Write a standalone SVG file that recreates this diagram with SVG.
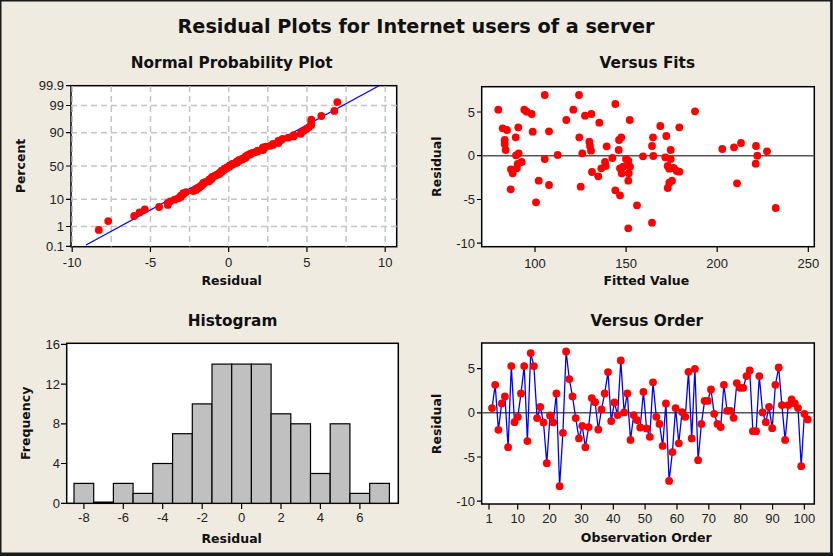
<svg xmlns="http://www.w3.org/2000/svg" width="833" height="556" viewBox="0 0 833 556">
<style>
.bg{fill:#EFEBE1}
.box{fill:#fff;stroke:#000;stroke-width:1.5}
.tk{stroke:#000;stroke-width:1.2}
.grid{stroke:#C4C4C4;stroke-width:1.5;stroke-dasharray:6 4;fill:none}
.pt{fill:#FF0000}
.pt circle{r:3.9px}
.t{font-family:"Liberation Sans",Arial,sans-serif;font-size:13px;fill:#222}
.tr{text-anchor:end}
.tm{text-anchor:middle}
.h{font-family:"DejaVu Sans",Verdana,sans-serif;font-weight:bold;font-size:15.3px;fill:#111;text-anchor:middle}
.a{font-family:"DejaVu Sans",Verdana,sans-serif;font-weight:bold;font-size:12.5px;fill:#111;text-anchor:middle}
.bar{fill:#C0C0C0;stroke:#000;stroke-width:1.2}
.zero{stroke:#555;stroke-width:1.5}
.fit{stroke:#0000FF;stroke-width:1.3;fill:none}
</style>
<rect class="bg" x="0" y="0" width="833" height="556"/>
<rect x="0.75" y="0.75" width="830.5" height="552.5" fill="none" stroke="#1a1a1a" stroke-width="1.5"/>
<line x1="831.5" y1="0" x2="831.5" y2="556" stroke="#1a1a1a" stroke-width="2.5"/>
<line x1="0" y1="554.5" x2="833" y2="554.5" stroke="#1a1a1a" stroke-width="3"/>
<text x="416" y="33" font-family="DejaVu Sans,Verdana,sans-serif" font-weight="bold" font-size="19.3" fill="#111" text-anchor="middle" textLength="477" lengthAdjust="spacingAndGlyphs">Residual Plots for Internet users of a server</text>

<g id="normal-plot">
<text class="h" x="231.7" y="67.5">Normal Probability Plot</text>
<rect class="box" x="71" y="85.7" width="325.7" height="161"/>
<g class="grid">
<path d="M72.2 86V246.5M111.3 86V246.5M150.45 86V246.5M189.6 86V246.5M228.7 86V246.5M267.8 86V246.5M306.95 86V246.5M346.1 86V246.5M385.2 86V246.5"/>
<path d="M71 105.5H396.7M71 132.7H396.7M71 166H396.7M71 199.3H396.7M71 226.5H396.7"/>
</g>
<path class="tk" d="M66 85.7H71M66 105.5H71M66 132.7H71M66 166H71M66 199.3H71M66 226.5H71M66 246.3H71M72.2 246.7V252M150.45 246.7V252M228.7 246.7V252M306.95 246.7V252M385.2 246.7V252"/>
<g class="t tr">
<text x="64" y="90">99.9</text><text x="64" y="110">99</text><text x="64" y="137">90</text><text x="64" y="170.5">50</text><text x="64" y="203.8">10</text><text x="64" y="231">1</text><text x="64" y="250.8">0.1</text>
</g>
<g class="t tm">
<text x="72.2" y="267">-10</text><text x="150.45" y="267">-5</text><text x="228.7" y="267">0</text><text x="306.95" y="267">5</text><text x="385.2" y="267">10</text>
</g>
<text class="a" x="231.7" y="285">Residual</text>
<text class="a" transform="translate(25,166) rotate(-90)">Percent</text>
<line class="fit" x1="86" y1="245" x2="379" y2="85.7"/>
<g class="pt">
<circle cx="98.8" cy="229.9" r="3.7"/><circle cx="108.2" cy="221.1" r="3.7"/><circle cx="134.2" cy="216" r="3.7"/><circle cx="139.5" cy="212.4" r="3.7"/><circle cx="144.8" cy="209.5" r="3.7"/><circle cx="159.1" cy="207" r="3.7"/><circle cx="167.8" cy="204.9" r="3.7"/><circle cx="167.8" cy="203" r="3.7"/><circle cx="170.2" cy="201.3" r="3.7"/><circle cx="174.7" cy="199.7" r="3.7"/>
<circle cx="178.6" cy="198.2" r="3.7"/><circle cx="180.8" cy="196.9" r="3.7"/><circle cx="180.8" cy="195.6" r="3.7"/><circle cx="183.3" cy="194.3" r="3.7"/><circle cx="183.3" cy="193.2" r="3.7"/><circle cx="186.1" cy="192.1" r="3.7"/><circle cx="193.3" cy="191" r="3.7"/><circle cx="196.1" cy="190" r="3.7"/><circle cx="196.1" cy="189" r="3.7"/><circle cx="198.7" cy="188" r="3.7"/>
<circle cx="199.1" cy="187.1" r="3.7"/><circle cx="201" cy="186.2" r="3.7"/><circle cx="201.5" cy="185.3" r="3.7"/><circle cx="202.7" cy="184.5" r="3.7"/><circle cx="203.3" cy="183.7" r="3.7"/><circle cx="203.3" cy="182.8" r="3.7"/><circle cx="205.7" cy="182" r="3.7"/><circle cx="209.1" cy="181.3" r="3.7"/><circle cx="209.1" cy="180.5" r="3.7"/><circle cx="209.1" cy="179.7" r="3.7"/>
<circle cx="211.6" cy="179" r="3.7"/><circle cx="211.6" cy="178.2" r="3.7"/><circle cx="212.1" cy="177.5" r="3.7"/><circle cx="212.1" cy="176.8" r="3.7"/><circle cx="214" cy="176.1" r="3.7"/><circle cx="215.7" cy="175.4" r="3.7"/><circle cx="217" cy="174.7" r="3.7"/><circle cx="219.3" cy="174" r="3.7"/><circle cx="219.3" cy="173.3" r="3.7"/><circle cx="219.8" cy="172.6" r="3.7"/>
<circle cx="221.7" cy="172" r="3.7"/><circle cx="221.7" cy="171.3" r="3.7"/><circle cx="221.7" cy="170.6" r="3.7"/><circle cx="224" cy="170" r="3.7"/><circle cx="224.6" cy="169.3" r="3.7"/><circle cx="224.6" cy="168.6" r="3.7"/><circle cx="227" cy="168" r="3.7"/><circle cx="227" cy="167.3" r="3.7"/><circle cx="229.3" cy="166.65" r="3.7"/><circle cx="229.3" cy="166" r="3.7"/>
<circle cx="229.9" cy="165.35" r="3.7"/><circle cx="232.3" cy="164.7" r="3.7"/><circle cx="232.3" cy="164" r="3.7"/><circle cx="234.6" cy="163.4" r="3.7"/><circle cx="237" cy="162.7" r="3.7"/><circle cx="237" cy="162" r="3.7"/><circle cx="237" cy="161.4" r="3.7"/><circle cx="239.3" cy="160.7" r="3.7"/><circle cx="239.3" cy="160" r="3.7"/><circle cx="242.3" cy="159.4" r="3.7"/>
<circle cx="242.3" cy="158.7" r="3.7"/><circle cx="245.3" cy="158" r="3.7"/><circle cx="245.3" cy="157.3" r="3.7"/><circle cx="245.3" cy="156.6" r="3.7"/><circle cx="247" cy="155.9" r="3.7"/><circle cx="247.5" cy="155.2" r="3.7"/><circle cx="250" cy="154.5" r="3.7"/><circle cx="250" cy="153.8" r="3.7"/><circle cx="252.3" cy="153" r="3.7"/><circle cx="254.7" cy="152.3" r="3.7"/>
<circle cx="257.7" cy="151.5" r="3.7"/><circle cx="257.7" cy="150.7" r="3.7"/><circle cx="263" cy="150" r="3.7"/><circle cx="263" cy="149.2" r="3.7"/><circle cx="263" cy="148.3" r="3.7"/><circle cx="263" cy="147.5" r="3.7"/><circle cx="265.9" cy="146.7" r="3.7"/><circle cx="270" cy="145.8" r="3.7"/><circle cx="273" cy="144.9" r="3.7"/><circle cx="273" cy="144" r="3.7"/>
<circle cx="278.3" cy="143" r="3.7"/><circle cx="278.3" cy="142" r="3.7"/><circle cx="278.3" cy="141" r="3.7"/><circle cx="281.3" cy="139.9" r="3.7"/><circle cx="282.7" cy="138.8" r="3.7"/><circle cx="288.3" cy="137.7" r="3.7"/><circle cx="293.6" cy="136.4" r="3.7"/><circle cx="293.6" cy="135.1" r="3.7"/><circle cx="300.7" cy="133.8" r="3.7"/><circle cx="301.3" cy="132.3" r="3.7"/>
<circle cx="303.7" cy="130.7" r="3.7"/><circle cx="306.6" cy="129" r="3.7"/><circle cx="309" cy="127.1" r="3.7"/><circle cx="311.3" cy="125" r="3.7"/><circle cx="311.3" cy="122.5" r="3.7"/><circle cx="311.3" cy="119.6" r="3.7"/><circle cx="321.3" cy="116" r="3.7"/><circle cx="334.3" cy="110.9" r="3.7"/><circle cx="337.3" cy="102.1" r="3.7"/>
</g>
</g>

<g id="versus-fits">
<text class="h" x="647.3" y="68.3">Versus Fits</text>
<rect class="box" x="481.7" y="86.7" width="332.6" height="160"/>
<line class="zero" x1="481.7" y1="155.7" x2="814.3" y2="155.7"/>
<path class="tk" d="M477 112H481.7M477 155.7H481.7M477 199.5H481.7M477 243.2H481.7M535 246.7V252M626.1 246.7V252M717.2 246.7V252M808.3 246.7V252"/>
<g class="t tr">
<text x="475" y="116.5">5</text><text x="475" y="160.2">0</text><text x="475" y="204">-5</text><text x="475" y="247.7">-10</text>
</g>
<g class="t tm">
<text x="535" y="268">100</text><text x="626.1" y="268">150</text><text x="717.2" y="268">200</text><text x="808.3" y="268">250</text>
</g>
<text class="a" x="646.3" y="284.5">Fitted Value</text>
<text class="a" transform="translate(441,166.7) rotate(-90)">Residual</text>
<g class="pt">
<circle cx="498.3" cy="109.7" r="3.7"/><circle cx="502.7" cy="128.3" r="3.7"/><circle cx="507" cy="130" r="3.7"/><circle cx="504.7" cy="140" r="3.7"/><circle cx="504.7" cy="144" r="3.7"/><circle cx="505.7" cy="150" r="3.7"/><circle cx="515.7" cy="137.3" r="3.7"/><circle cx="518.3" cy="127.3" r="3.7"/><circle cx="511" cy="169.3" r="3.7"/><circle cx="512.7" cy="173.3" r="3.7"/>
<circle cx="510.7" cy="189.3" r="3.7"/><circle cx="516" cy="155.3" r="3.7"/><circle cx="518.7" cy="153.3" r="3.7"/><circle cx="516.7" cy="168.3" r="3.7"/><circle cx="521.7" cy="162" r="3.7"/><circle cx="517.7" cy="164" r="3.7"/><circle cx="524.3" cy="109.7" r="3.7"/><circle cx="526.7" cy="111.7" r="3.7"/><circle cx="531.7" cy="114" r="3.7"/><circle cx="532.7" cy="131.7" r="3.7"/>
<circle cx="536" cy="202.3" r="3.7"/><circle cx="538.7" cy="180.7" r="3.7"/><circle cx="544.7" cy="95" r="3.7"/><circle cx="544.7" cy="159" r="3.7"/><circle cx="549" cy="131.3" r="3.7"/><circle cx="549" cy="185" r="3.7"/><circle cx="557.7" cy="155" r="3.7"/><circle cx="566.3" cy="120" r="3.7"/><circle cx="573.3" cy="109.7" r="3.7"/><circle cx="579" cy="95" r="3.7"/>
<circle cx="579.3" cy="137.3" r="3.7"/><circle cx="580.7" cy="186.7" r="3.7"/><circle cx="582.3" cy="153.3" r="3.7"/><circle cx="585" cy="115.7" r="3.7"/><circle cx="591.3" cy="114" r="3.7"/><circle cx="589.3" cy="141.7" r="3.7"/><circle cx="590" cy="146" r="3.7"/><circle cx="591" cy="150.7" r="3.7"/><circle cx="592" cy="172" r="3.7"/><circle cx="598.3" cy="176.3" r="3.7"/>
<circle cx="599.3" cy="122.7" r="3.7"/><circle cx="601.3" cy="168.3" r="3.7"/><circle cx="605" cy="162" r="3.7"/><circle cx="605.7" cy="166" r="3.7"/><circle cx="606.7" cy="146.3" r="3.7"/><circle cx="612.3" cy="158" r="3.7"/><circle cx="615.3" cy="104" r="3.7"/><circle cx="615.3" cy="190.3" r="3.7"/><circle cx="620" cy="195.3" r="3.7"/><circle cx="618.7" cy="150" r="3.7"/>
<circle cx="619" cy="140" r="3.7"/><circle cx="621.3" cy="137.3" r="3.7"/><circle cx="620" cy="168.3" r="3.7"/><circle cx="621.7" cy="173.3" r="3.7"/><circle cx="623.3" cy="166.7" r="3.7"/><circle cx="626" cy="159" r="3.7"/><circle cx="628.3" cy="160.7" r="3.7"/><circle cx="629.7" cy="120" r="3.7"/><circle cx="628.7" cy="173.3" r="3.7"/><circle cx="628.3" cy="180.7" r="3.7"/>
<circle cx="630" cy="166.7" r="3.7"/><circle cx="628.3" cy="228.3" r="3.7"/><circle cx="637" cy="205.3" r="3.7"/><circle cx="643" cy="156.3" r="3.7"/><circle cx="652" cy="222.7" r="3.7"/><circle cx="653" cy="137.3" r="3.7"/><circle cx="652" cy="146" r="3.7"/><circle cx="653.3" cy="156" r="3.7"/><circle cx="660.3" cy="126" r="3.7"/><circle cx="665.3" cy="157.3" r="3.7"/>
<circle cx="666.3" cy="136" r="3.7"/><circle cx="667.7" cy="166" r="3.7"/><circle cx="669.3" cy="168.7" r="3.7"/><circle cx="667.7" cy="188" r="3.7"/><circle cx="669.3" cy="182.7" r="3.7"/><circle cx="670.7" cy="150" r="3.7"/><circle cx="670.7" cy="159" r="3.7"/><circle cx="672" cy="180.7" r="3.7"/><circle cx="673" cy="168" r="3.7"/><circle cx="674" cy="168.3" r="3.7"/>
<circle cx="676.7" cy="171" r="3.7"/><circle cx="679.3" cy="171.7" r="3.7"/><circle cx="679.3" cy="127.3" r="3.7"/><circle cx="695" cy="111.3" r="3.7"/><circle cx="722.3" cy="149" r="3.7"/><circle cx="734" cy="147.3" r="3.7"/><circle cx="741" cy="143" r="3.7"/><circle cx="737" cy="183.3" r="3.7"/><circle cx="756" cy="146" r="3.7"/><circle cx="757.3" cy="155.7" r="3.7"/>
<circle cx="755.7" cy="163.7" r="3.7"/><circle cx="767" cy="151.3" r="3.7"/><circle cx="775.7" cy="208" r="3.7"/>
</g>
</g>

<g id="histogram">
<text class="h" x="232.5" y="326">Histogram</text>
<rect class="box" x="66.7" y="343.3" width="331.6" height="160"/>
<g class="bar">
<rect x="74" y="483.4" width="19.71" height="19.9"/>
<rect x="113.4" y="483.4" width="19.71" height="19.9"/>
<rect x="133.1" y="493.4" width="19.71" height="9.9"/>
<rect x="152.8" y="463.5" width="19.71" height="39.8"/>
<rect x="172.6" y="433.7" width="19.71" height="69.6"/>
<rect x="192.3" y="403.9" width="19.71" height="99.4"/>
<rect x="212" y="364.1" width="19.71" height="139.2"/>
<rect x="231.7" y="364.1" width="19.71" height="139.2"/>
<rect x="251.4" y="364.1" width="19.71" height="139.2"/>
<rect x="271.1" y="413.8" width="19.71" height="89.5"/>
<rect x="290.8" y="423.8" width="19.71" height="79.5"/>
<rect x="310.5" y="473.5" width="19.71" height="29.8"/>
<rect x="330.2" y="423.8" width="19.71" height="79.5"/>
<rect x="350" y="493.4" width="19.71" height="9.9"/>
<rect x="369.7" y="483.4" width="19.71" height="19.9"/>
</g>
<line x1="93.7" y1="502.5" x2="113.4" y2="502.5" stroke="#000" stroke-width="2"/>
<path class="tk" d="M61 344.3H66.7M61 384.1H66.7M61 423.8H66.7M61 463.5H66.7M61 503.3H66.7M83.9 503.3V509M123.3 503.3V509M162.7 503.3V509M202.2 503.3V509M241.6 503.3V509M281 503.3V509M320.4 503.3V509M359.9 503.3V509"/>
<g class="t tr">
<text x="60" y="348.8">16</text><text x="60" y="388.6">12</text><text x="60" y="428.3">8</text><text x="60" y="468">4</text><text x="60" y="507.8">0</text>
</g>
<g class="t tm">
<text x="83.9" y="522">-8</text><text x="123.3" y="522">-6</text><text x="162.7" y="522">-4</text><text x="202.2" y="522">-2</text><text x="241.6" y="522">0</text><text x="281" y="522">2</text><text x="320.4" y="522">4</text><text x="359.9" y="522">6</text>
</g>
<text class="a" x="231.7" y="542.5">Residual</text>
<text class="a" transform="translate(30,423.3) rotate(-90)">Frequency</text>
</g>

<g id="versus-order">
<text class="h" x="646.8" y="326">Versus Order</text>
<rect class="box" x="481.7" y="343" width="332.6" height="161"/>
<line class="zero" x1="481.7" y1="412.8" x2="814.3" y2="412.8"/>
<path class="tk" d="M477 368.6H481.7M477 412.8H481.7M477 457H481.7M477 501.2H481.7M489 504V509.5M517.7 504V509.5M549.5 504V509.5M581.4 504V509.5M613.3 504V509.5M645.1 504V509.5M677 504V509.5M708.8 504V509.5M740.7 504V509.5M772.6 504V509.5M804.4 504V509.5"/>
<g class="t tr">
<text x="475" y="373.1">5</text><text x="475" y="417.3">0</text><text x="475" y="461.5">-5</text><text x="475" y="505.7">-10</text>
</g>
<g class="t tm">
<text x="489" y="523">1</text><text x="517.7" y="523">10</text><text x="549.5" y="523">20</text><text x="581.4" y="523">30</text><text x="613.3" y="523">40</text><text x="645.1" y="523">50</text><text x="677" y="523">60</text><text x="708.8" y="523">70</text><text x="740.7" y="523">80</text><text x="772.6" y="523">90</text><text x="804.4" y="523">100</text>
</g>
<text class="a" x="646.2" y="542">Observation Order</text>
<text class="a" transform="translate(441,424) rotate(-90)">Residual</text>
<polyline class="fit" points="492,408.1 495.2,384.8 498.4,429.8 501.7,403.4 504.9,396.4 508.1,447.2 511.3,366.1 514.5,422.2 517.8,416.8 521,393.4 524.2,366.1 527.4,441.1 530.7,353.1 533.9,366.1 537.1,418.1 540.3,406.8 543.5,422.4 546.8,463.2 550,415.5 553.2,422.4 556.4,393.4 559.6,486.2 562.9,432.8 566.1,351.5 569.3,379.1 572.5,396.4 575.7,418.1 579,438.4 582.2,425.8 585.4,447.2 588.6,427.1 591.8,398.1 595.1,402.2 598.3,429.5 601.5,409.4 604.7,393.4 608,372.1 611.2,421.1 614.4,402.5 617.6,415.1 620.8,360.5 624.1,412.4 627.3,393.4 630.5,439.9 633.7,415.1 636.9,420.1 640.2,427.5 643.4,391.8 646.6,428.4 649.8,436.8 653,382.3 656.3,416.8 659.5,423.9 662.7,445.9 665.9,403.4 669.1,480.9 672.4,452.1 675.6,408.1 678.8,443.3 682,412.1 685.3,416.8 688.5,371.8 691.7,438.4 694.9,368.8 698.1,460.2 701.4,423.9 704.6,400.8 707.8,400.8 711,389.5 714.2,413.8 717.5,423.9 720.7,427.1 723.9,384.8 727.1,410.8 730.4,410.8 733.6,417.8 736.8,383.1 740,387.8 743.2,387.8 746.5,376.1 749.7,370.5 752.9,431.2 756.1,431.2 759.3,376.1 762.6,412.4 765.8,422.2 769,406.8 772.2,428.2 775.4,384.8 778.7,367.5 781.9,405.1 785.1,439.9 788.3,405.1 791.6,399.5 794.8,403.4 798,408.1 801.2,466.2 804.4,413.8 807.7,419.4"/>
<g class="pt">
<circle cx="492" cy="408.1" r="3.7"/><circle cx="495.2" cy="384.8" r="3.7"/><circle cx="498.4" cy="429.8" r="3.7"/><circle cx="501.7" cy="403.4" r="3.7"/><circle cx="504.9" cy="396.4" r="3.7"/><circle cx="508.1" cy="447.2" r="3.7"/><circle cx="511.3" cy="366.1" r="3.7"/><circle cx="514.5" cy="422.2" r="3.7"/><circle cx="517.8" cy="416.8" r="3.7"/><circle cx="521" cy="393.4" r="3.7"/>
<circle cx="524.2" cy="366.1" r="3.7"/><circle cx="527.4" cy="441.1" r="3.7"/><circle cx="530.7" cy="353.1" r="3.7"/><circle cx="533.9" cy="366.1" r="3.7"/><circle cx="537.1" cy="418.1" r="3.7"/><circle cx="540.3" cy="406.8" r="3.7"/><circle cx="543.5" cy="422.4" r="3.7"/><circle cx="546.8" cy="463.2" r="3.7"/><circle cx="550" cy="415.5" r="3.7"/><circle cx="553.2" cy="422.4" r="3.7"/>
<circle cx="556.4" cy="393.4" r="3.7"/><circle cx="559.6" cy="486.2" r="3.7"/><circle cx="562.9" cy="432.8" r="3.7"/><circle cx="566.1" cy="351.5" r="3.7"/><circle cx="569.3" cy="379.1" r="3.7"/><circle cx="572.5" cy="396.4" r="3.7"/><circle cx="575.7" cy="418.1" r="3.7"/><circle cx="579" cy="438.4" r="3.7"/><circle cx="582.2" cy="425.8" r="3.7"/><circle cx="585.4" cy="447.2" r="3.7"/>
<circle cx="588.6" cy="427.1" r="3.7"/><circle cx="591.8" cy="398.1" r="3.7"/><circle cx="595.1" cy="402.2" r="3.7"/><circle cx="598.3" cy="429.5" r="3.7"/><circle cx="601.5" cy="409.4" r="3.7"/><circle cx="604.7" cy="393.4" r="3.7"/><circle cx="608" cy="372.1" r="3.7"/><circle cx="611.2" cy="421.1" r="3.7"/><circle cx="614.4" cy="402.5" r="3.7"/><circle cx="617.6" cy="415.1" r="3.7"/>
<circle cx="620.8" cy="360.5" r="3.7"/><circle cx="624.1" cy="412.4" r="3.7"/><circle cx="627.3" cy="393.4" r="3.7"/><circle cx="630.5" cy="439.9" r="3.7"/><circle cx="633.7" cy="415.1" r="3.7"/><circle cx="636.9" cy="420.1" r="3.7"/><circle cx="640.2" cy="427.5" r="3.7"/><circle cx="643.4" cy="391.8" r="3.7"/><circle cx="646.6" cy="428.4" r="3.7"/><circle cx="649.8" cy="436.8" r="3.7"/>
<circle cx="653" cy="382.3" r="3.7"/><circle cx="656.3" cy="416.8" r="3.7"/><circle cx="659.5" cy="423.9" r="3.7"/><circle cx="662.7" cy="445.9" r="3.7"/><circle cx="665.9" cy="403.4" r="3.7"/><circle cx="669.1" cy="480.9" r="3.7"/><circle cx="672.4" cy="452.1" r="3.7"/><circle cx="675.6" cy="408.1" r="3.7"/><circle cx="678.8" cy="443.3" r="3.7"/><circle cx="682" cy="412.1" r="3.7"/>
<circle cx="685.3" cy="416.8" r="3.7"/><circle cx="688.5" cy="371.8" r="3.7"/><circle cx="691.7" cy="438.4" r="3.7"/><circle cx="694.9" cy="368.8" r="3.7"/><circle cx="698.1" cy="460.2" r="3.7"/><circle cx="701.4" cy="423.9" r="3.7"/><circle cx="704.6" cy="400.8" r="3.7"/><circle cx="707.8" cy="400.8" r="3.7"/><circle cx="711" cy="389.5" r="3.7"/><circle cx="714.2" cy="413.8" r="3.7"/>
<circle cx="717.5" cy="423.9" r="3.7"/><circle cx="720.7" cy="427.1" r="3.7"/><circle cx="723.9" cy="384.8" r="3.7"/><circle cx="727.1" cy="410.8" r="3.7"/><circle cx="730.4" cy="410.8" r="3.7"/><circle cx="733.6" cy="417.8" r="3.7"/><circle cx="736.8" cy="383.1" r="3.7"/><circle cx="740" cy="387.8" r="3.7"/><circle cx="743.2" cy="387.8" r="3.7"/><circle cx="746.5" cy="376.1" r="3.7"/>
<circle cx="749.7" cy="370.5" r="3.7"/><circle cx="752.9" cy="431.2" r="3.7"/><circle cx="756.1" cy="431.2" r="3.7"/><circle cx="759.3" cy="376.1" r="3.7"/><circle cx="762.6" cy="412.4" r="3.7"/><circle cx="765.8" cy="422.2" r="3.7"/><circle cx="769" cy="406.8" r="3.7"/><circle cx="772.2" cy="428.2" r="3.7"/><circle cx="775.4" cy="384.8" r="3.7"/><circle cx="778.7" cy="367.5" r="3.7"/>
<circle cx="781.9" cy="405.1" r="3.7"/><circle cx="785.1" cy="439.9" r="3.7"/><circle cx="788.3" cy="405.1" r="3.7"/><circle cx="791.6" cy="399.5" r="3.7"/><circle cx="794.8" cy="403.4" r="3.7"/><circle cx="798" cy="408.1" r="3.7"/><circle cx="801.2" cy="466.2" r="3.7"/><circle cx="804.4" cy="413.8" r="3.7"/><circle cx="807.7" cy="419.4" r="3.7"/>
</g>
</g>
</svg>
